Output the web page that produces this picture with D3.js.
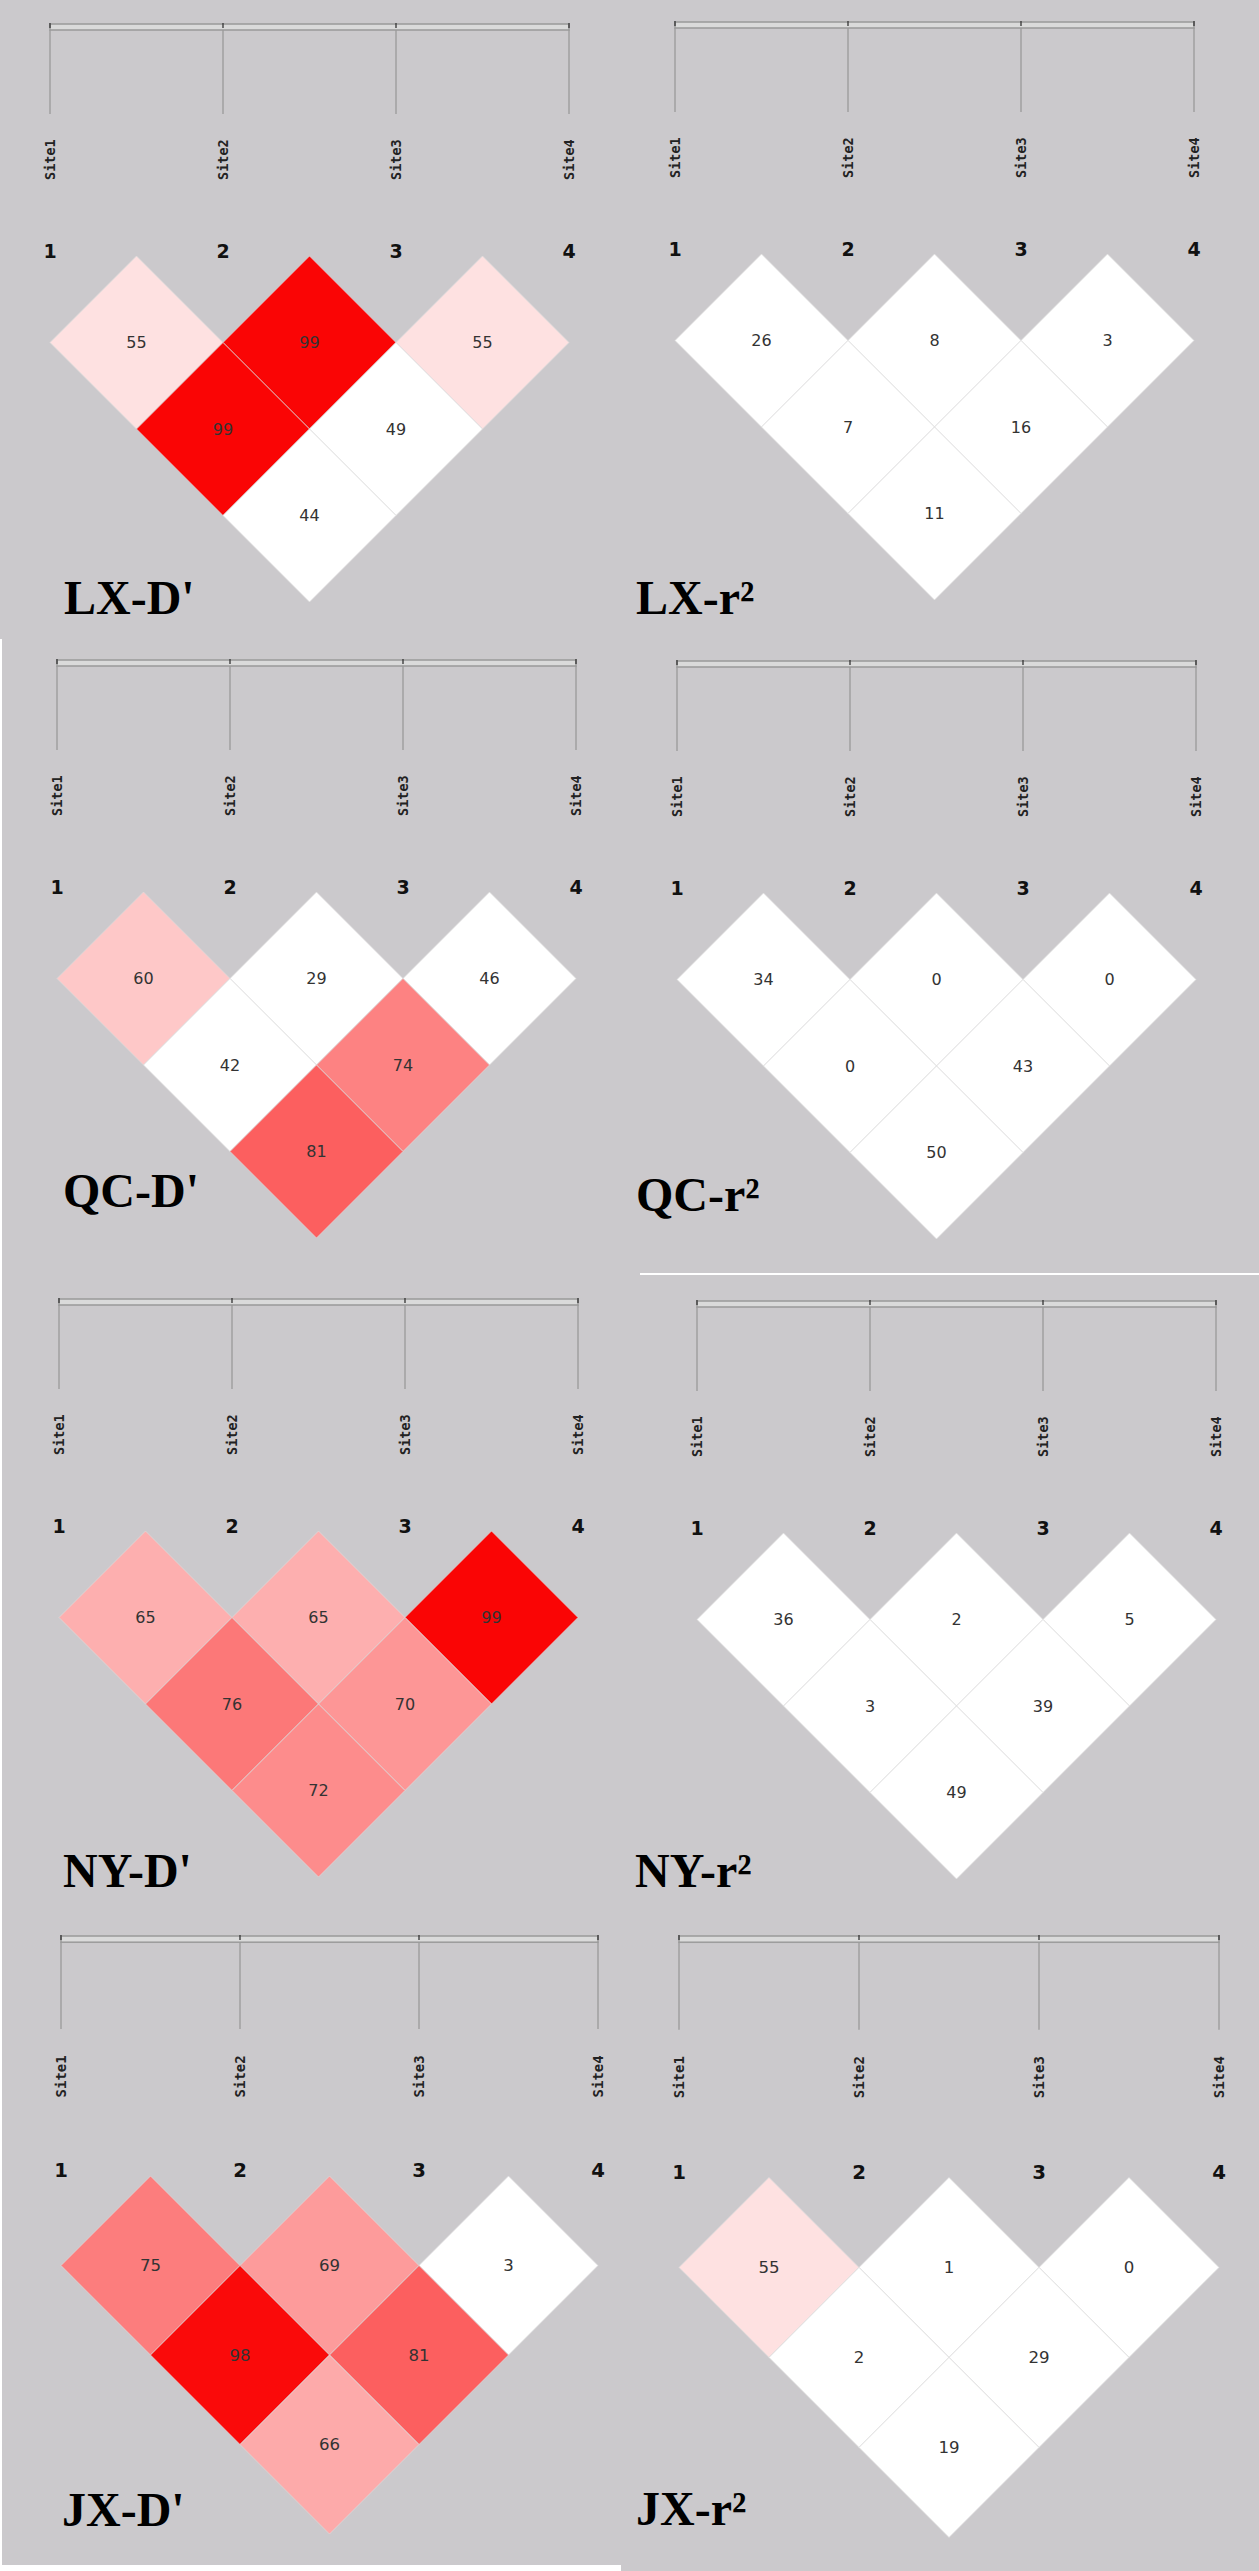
<!DOCTYPE html>
<html>
<head>
<meta charset="utf-8">
<script src="https://cdn.jsdelivr.net/npm/d3@7"></script>
<style>
  body { margin: 0; background: #cbc9cc; }
  svg { display: block; }
</style>
</head>
<body>
<div id="chart"></div>
<script>
// marker names and pair order (1-2, 2-3, 3-4, 1-3, 2-4, 1-4)
const sites = ["Site1", "Site2", "Site3", "Site4"];
const siteNums = ["1", "2", "3", "4"];
const pairs = [[0, 1], [1, 2], [2, 3], [0, 2], [1, 3], [0, 3]];

const populations = ["LX", "QC", "NY", "JX"];

// LD values (x100) per pair, same order as pairs
const lxD = [55, 99, 55, 99, 49, 44];
const lxR2 = [26, 8, 3, 7, 16, 11];
const qcD = [60, 29, 46, 42, 74, 81];
const qcR2 = [34, 0, 0, 0, 43, 50];
const nyD = [65, 65, 99, 76, 70, 72];
const nyR2 = [36, 2, 5, 3, 39, 49];
const jxD = [75, 69, 3, 98, 81, 66];
const jxR2 = [55, 1, 0, 2, 29, 19];

const panelValues = [lxD, lxR2, qcD, qcR2, nyD, nyR2, jxD, jxR2];
const panelTitles = populations.flatMap(p => [p + "-D'", p + "-r\u00B2"]);

// where each pasted panel sits in the page
const layout = [
    {x0: 50, top: 24, dx: 173, tx: 64, ty: 614},
    {x0: 675, top: 22, dx: 173, tx: 636, ty: 614},
    {x0: 57, top: 660, dx: 173, tx: 63, ty: 1207},
    {x0: 677, top: 661, dx: 173, tx: 636, ty: 1211},
    {x0: 59, top: 1299, dx: 173, tx: 63, ty: 1887},
    {x0: 697, top: 1301, dx: 173, tx: 635, ty: 1887},
    {x0: 61, top: 1936, dx: 179, tx: 62, ty: 2526},
    {x0: 679, top: 1936, dx: 180, tx: 636, ty: 2525}
];

const W = 1259, H = 2571;

const svg = d3.select("#chart")
    .append("svg")
    .attr("width", W)
    .attr("height", H);

svg.append("rect")
    .attr("width", W)
    .attr("height", H)
    .attr("fill", "#cbc9cc");

// seams left from pasting the screenshots together
svg.append("rect").attr("x", 0).attr("y", 639).attr("width", 2).attr("height", H - 639).attr("fill", "#fff");
svg.append("rect").attr("x", 640).attr("y", 1273).attr("width", W - 640).attr("height", 2).attr("fill", "#fff");
svg.append("rect").attr("x", 0).attr("y", H - 6).attr("width", 621).attr("height", 6).attr("fill", "#fff");

const redScale = d3.scaleLinear()
    .domain([49, 100])
    .range(["#ffffff", "#fa0000"])
    .clamp(true);

// cells at 50 or below stay white
function color(v) {
    if (v <= 50) return "#ffffff";
    return redScale(v);
}

function drawPanel(values, title, lay) {
    const k = lay.dx / 173;
    const x = d3.scalePoint()
        .domain(sites)
        .range([lay.x0, lay.x0 + 3 * lay.dx]);
    const half = lay.dx / 2;
    const top = lay.top;
    const diamondTop = top + 232 * k;

    const g = svg.append("g");

    // marker position bar
    g.append("rect")
        .attr("x", x(sites[0]))
        .attr("y", top)
        .attr("width", x(sites[3]) - x(sites[0]))
        .attr("height", 6 * k)
        .attr("fill", "#dadada")
        .attr("stroke", "#9d9d9d")
        .attr("stroke-width", 1.6);

    g.selectAll("line.drop")
        .data(sites)
        .enter()
        .append("line")
        .attr("class", "drop")
        .attr("x1", d => x(d))
        .attr("x2", d => x(d))
        .attr("y1", top + 6 * k)
        .attr("y2", top + 90 * k)
        .attr("stroke", "#9a9a9a")
        .attr("stroke-width", 1.3);

    g.selectAll("line.tick")
        .data(sites)
        .enter()
        .append("line")
        .attr("class", "tick")
        .attr("x1", d => x(d))
        .attr("x2", d => x(d))
        .attr("y1", top - 1)
        .attr("y2", top + 4)
        .attr("stroke", "#333")
        .attr("stroke-width", 1.3);

    g.selectAll("text.site")
        .data(sites)
        .enter()
        .append("text")
        .attr("class", "site")
        .attr("transform", d => "translate(" + x(d) + "," + (top + 156 * k) + ") rotate(-90)")
        .attr("dy", "0.36em")
        .style("font-family", "'DejaVu Sans Mono', monospace")
        .style("font-weight", "bold")
        .style("font-size", (13.5 * k) + "px")
        .style("fill", "#222")
        .text(d => d);

    g.selectAll("text.num")
        .data(sites)
        .enter()
        .append("text")
        .attr("class", "num")
        .attr("x", d => x(d))
        .attr("y", top + 227 * k)
        .attr("text-anchor", "middle")
        .attr("dominant-baseline", "central")
        .style("font-family", "'DejaVu Sans', sans-serif")
        .style("font-weight", "bold")
        .style("font-size", (19 * k) + "px")
        .style("fill", "#111")
        .text((d, i) => siteNums[i]);

    const cells = pairs.map((p, i) => ({
        cx: (x(sites[p[0]]) + x(sites[p[1]])) / 2,
        cy: diamondTop + (p[1] - p[0]) * half,
        v: values[i]
    }));

    g.selectAll("path.cell")
        .data(cells)
        .enter()
        .append("path")
        .attr("class", "cell")
        .attr("d", d => {
            const p = d3.path();
            p.moveTo(d.cx, d.cy - half);
            p.lineTo(d.cx + half, d.cy);
            p.lineTo(d.cx, d.cy + half);
            p.lineTo(d.cx - half, d.cy);
            p.closePath();
            return p.toString();
        })
        .attr("fill", d => color(d.v))
        .attr("stroke", "#dcdcdc")
        .attr("stroke-width", 0.7);

    g.selectAll("text.val")
        .data(cells)
        .enter()
        .append("text")
        .attr("class", "val")
        .attr("x", d => d.cx)
        .attr("y", d => d.cy)
        .attr("text-anchor", "middle")
        .attr("dominant-baseline", "central")
        .style("font-family", "'DejaVu Sans', sans-serif")
        .style("font-size", (16 * k) + "px")
        .style("fill", "#333")
        .text(d => d.v);

    svg.append("text")
        .attr("x", lay.tx)
        .attr("y", lay.ty)
        .style("font-family", "'Liberation Serif', 'Times New Roman', serif")
        .style("font-weight", "bold")
        .style("font-size", "48px")
        .style("fill", "#000")
        .text(title);
}

panelValues.forEach((vals, i) => drawPanel(vals, panelTitles[i], layout[i]));
</script>
</body>
</html>
